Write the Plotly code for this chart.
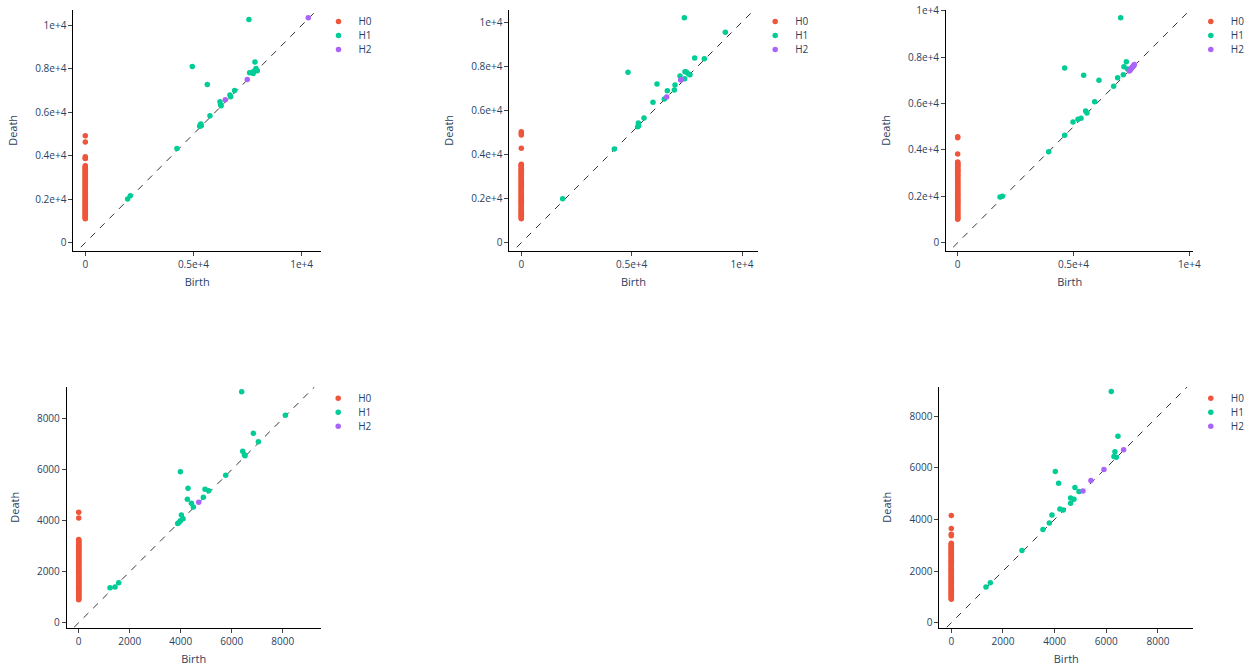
import plotly.graph_objects as go

# ---------------- data ----------------
# Subplot 1
h0_death_1 = [4920, 4640, 3960, 3890, 3870, 3540, 3500, 3470, 3420, 3380, 3330, 3300, 3250, 3200, 3170, 3120,
              3080, 3030, 2990, 2950, 2900, 2870, 2820, 2770, 2740, 2690, 2650, 2600, 2560, 2530, 2480, 2440,
              2390, 2350, 2310, 2270, 2220, 2180, 2140, 2100, 2050, 2010, 1970, 1930, 1890, 1850, 1810, 1770,
              1730, 1690, 1650, 1610, 1570, 1530, 1490, 1450, 1410, 1370, 1330, 1290, 1250, 1210, 1170, 1130, 1100]
h1_birth_1 = [7565, 4946, 5640, 4237, 1957, 2080, 5316, 5290, 5360, 5340, 5763, 6225, 6256, 6280, 6687, 6718,
              6903, 7843, 7596, 7735, 7889, 7827, 7951, 7766]
h1_death_1 = [10276, 8113, 7285, 4340, 2009, 2163, 5414, 5360, 5380, 5460, 5844, 6488, 6350, 6300, 6794, 6718,
              7009, 8313, 7822, 7853, 8021, 7899, 7914, 7791]
h2_birth_1 = [10308, 7488, 6471]
h2_death_1 = [10353, 7515, 6580]
diag_1 = [-207, 10560]

# Subplot 2
h0_death_2 = [5030, 4950, 4879, 4275, 3560, 3530, 3490, 3450, 3410, 3370, 3320, 3280, 3240, 3200, 3150, 3110,
              3070, 3030, 2980, 2940, 2900, 2860, 2810, 2770, 2730, 2690, 2640, 2600, 2560, 2520, 2470, 2430,
              2390, 2350, 2300, 2260, 2220, 2180, 2130, 2090, 2050, 2010, 1960, 1920, 1880, 1840, 1790, 1750,
              1710, 1670, 1620, 1580, 1540, 1500, 1450, 1410, 1370, 1330, 1280, 1240, 1200, 1160, 1110, 1080]
h1_birth_2 = [7387, 4834, 9245, 7855, 8293, 6148, 5967, 6616, 6480, 6934, 6964, 7190, 7417, 7477, 7402, 7583,
              7644, 5302, 5317, 5272, 5559, 4215, 1873]
h1_death_2 = [10196, 7719, 9532, 8369, 8338, 7190, 6360, 6888, 6511, 6918, 7145, 7553, 7749, 7734, 7432, 7644,
              7613, 5423, 5302, 5257, 5650, 4245, 1994]
h2_birth_2 = [6586, 7221, 7260]
h2_death_2 = [6601, 7372, 7400]
diag_2 = [-204, 10400]

# Subplot 3
h0_death_3 = [4569, 4520, 3822, 3480, 3450, 3410, 3370, 3330, 3290, 3250, 3200, 3160, 3120, 3080, 3040, 3000,
              2950, 2910, 2870, 2830, 2790, 2750, 2700, 2660, 2620, 2580, 2540, 2500, 2450, 2410, 2370, 2330,
              2290, 2250, 2200, 2160, 2120, 2080, 2040, 2000, 1950, 1910, 1870, 1830, 1790, 1750, 1700, 1660,
              1620, 1580, 1540, 1500, 1450, 1410, 1370, 1330, 1290, 1250, 1200, 1160, 1120, 1080, 1040, 1006]
h1_birth_3 = [7036, 4619, 5439, 6101, 7281, 7180, 7151, 6906, 6734, 5914, 5525, 5583, 5324, 5194, 4978, 4619,
              3928, 1827, 1928, 7338]
h1_death_3 = [9698, 7529, 7213, 6997, 7802, 7586, 7241, 7112, 6739, 6078, 5675, 5589, 5359, 5316, 5201, 4626,
              3922, 1968, 1997, 7486]
h2_birth_3 = [7410, 7440, 7468, 7500, 7530, 7554, 7585, 7612, 7630]
h2_death_3 = [7399, 7430, 7471, 7520, 7550, 7586, 7620, 7658, 7680]
diag_3 = [-194, 9892]

# Subplot 4
h0_death_4 = [4327, 4105, 3260, 3230, 3200, 3170, 3130, 3100, 3060, 3030, 2990, 2960, 2920, 2890, 2850, 2820,
              2780, 2750, 2710, 2680, 2640, 2610, 2570, 2540, 2500, 2470, 2430, 2400, 2360, 2330, 2290, 2260,
              2220, 2190, 2150, 2120, 2080, 2050, 2010, 1980, 1940, 1910, 1870, 1840, 1800, 1770, 1730, 1700,
              1660, 1630, 1590, 1560, 1520, 1490, 1450, 1420, 1380, 1350, 1310, 1280, 1240, 1210, 1170, 1140,
              1100, 1070, 1030, 1000, 960, 930, 902]
h1_birth_4 = [6392, 3987, 4288, 4261, 4418, 4497, 4889, 4954, 5098, 5765, 4026, 4092, 3987, 3882, 3930, 6431,
              6497, 6523, 6850, 7046, 8105, 1229, 1425, 1569]
h1_death_4 = [9059, 5922, 5268, 4837, 4680, 4536, 4915, 5229, 5176, 5778, 4222, 4078, 4000, 3895, 3930, 6719,
              6588, 6549, 7425, 7098, 8131, 1373, 1399, 1569]
h2_birth_4 = [4706]
h2_death_4 = [4719]
diag_4 = [-181, 9240]

# Subplot 5
h0_death_5 = [4147, 3643, 3420, 3370, 3075, 3040, 3010, 2970, 2940, 2900, 2870, 2830, 2800, 2760, 2730, 2690,
              2660, 2620, 2590, 2550, 2520, 2480, 2450, 2410, 2380, 2340, 2310, 2270, 2240, 2200, 2170, 2130,
              2100, 2060, 2030, 1990, 1960, 1920, 1890, 1850, 1820, 1780, 1750, 1710, 1680, 1640, 1610, 1570,
              1540, 1500, 1470, 1430, 1400, 1360, 1330, 1290, 1260, 1220, 1190, 1150, 1120, 1080, 1050, 1010,
              980, 940, 904]
h1_birth_5 = [6194, 6452, 6335, 6297, 6387, 4026, 4155, 4787, 4942, 4619, 4748, 4619, 4206, 4335, 3897, 3794,
              3548, 2735, 1342, 1510]
h1_death_5 = [8953, 7222, 6615, 6434, 6408, 5853, 5400, 5233, 5078, 4832, 4780, 4625, 4406, 4367, 4173, 3863,
              3605, 2791, 1382, 1550]
h2_birth_5 = [5097, 5406, 5910, 6671]
h2_death_5 = [5103, 5504, 5930, 6693]
diag_5 = [-179, 9132]

homology_names = ["H0", "H1", "H2"]
colors = ["#EF553B", "#00CC96", "#AB63FA"]

subplots = [
    dict(h0=h0_death_1, h1b=h1_birth_1, h1d=h1_death_1, h2b=h2_birth_1, h2d=h2_death_1, diag=diag_1),
    dict(h0=h0_death_2, h1b=h1_birth_2, h1d=h1_death_2, h2b=h2_birth_2, h2d=h2_death_2, diag=diag_2),
    dict(h0=h0_death_3, h1b=h1_birth_3, h1d=h1_death_3, h2b=h2_birth_3, h2d=h2_death_3, diag=diag_3),
    dict(h0=h0_death_4, h1b=h1_birth_4, h1d=h1_death_4, h2b=h2_birth_4, h2d=h2_death_4, diag=diag_4),
    dict(h0=h0_death_5, h1b=h1_birth_5, h1d=h1_death_5, h2b=h2_birth_5, h2d=h2_death_5, diag=diag_5),
]

# ---------------- layout geometry (pixels) ----------------
W, H = 1252, 668
# (left, right, top, bottom) of each plot area in pixels
boxes = [
    (73.3, 321.0, 10.0, 250.7),
    (509.3, 757.7, 10.0, 250.7),
    (946.0, 1193.3, 10.0, 250.7),
    (66.7, 320.7, 386.7, 627.7),
    (939.3, 1193.3, 386.7, 627.7),
]
x_ranges = [(-555, 10897), (-544, 10711), (-505, 10173), (-471, 9490), (-465, 9369)]
y_ranges = [(-368, 10709), (-362, 10544), (-345, 10030), (-196, 9255), (-194, 9137)]

TEXT = "#2a3f5f"
fig = go.Figure()
layout = dict(
    width=W, height=H,
    margin=dict(l=0, r=0, t=0, b=0),
    plot_bgcolor="white",
    paper_bgcolor="white",
    font=dict(family="Open Sans, sans-serif", size=10, color=TEXT),
)

leg_count = 0
for i, sp in enumerate(subplots):
    n = i + 1
    suffix = "" if n == 1 else str(n)
    xref = "x" + suffix
    yref = "y" + suffix
    l, r, t, b = boxes[i]

    fig.add_trace(go.Scatter(
        x=sp["diag"], y=sp["diag"], mode="lines",
        line=dict(dash="6.75px,6.75px", width=0.8, color="black"),
        showlegend=False, hoverinfo="none", xaxis=xref, yaxis=yref))

    series = [
        ([0] * len(sp["h0"]), sp["h0"]),
        (sp["h1b"], sp["h1d"]),
        (sp["h2b"], sp["h2d"]),
    ]
    for k, (xs, ys) in enumerate(series):
        leg_count += 1
        leg = "legend" if leg_count == 1 else "legend" + str(leg_count)
        fig.add_trace(go.Scatter(
            x=xs, y=ys, mode="markers", name=homology_names[k],
            marker=dict(color=colors[k], size=5.5), xaxis=xref, yaxis=yref, legend=leg))
        layout[leg] = dict(
            x=(r - 2.5) / W, xanchor="left",
            y=1 - (t - 3 + 14 * k) / H, yanchor="top",
            bgcolor="rgba(0,0,0,0)", font=dict(size=10, color=TEXT),
            itemwidth=30)

    axis_common = dict(
        type="linear", autorange=False, ticks="outside", ticklen=4, tickwidth=0.75,
        tickcolor="#444", showline=True,
        linewidth=0.8, linecolor="black", mirror=False, showgrid=False,
        zeroline=False, showexponent="all", exponentformat="e", automargin=False,
        tickfont=dict(size=10, color=TEXT),
    )
    layout["xaxis" + suffix] = dict(
        axis_common, domain=[l / W, r / W], range=list(x_ranges[i]),
        anchor=yref, title=dict(text="Birth", font=dict(size=11), standoff=8))
    layout["yaxis" + suffix] = dict(
        axis_common, domain=[1 - b / H, 1 - t / H], range=list(y_ranges[i]),
        anchor=xref, title=dict(text="Death", font=dict(size=11), standoff=15))

fig.update_layout(**layout)
fig.write_html("out.html")
